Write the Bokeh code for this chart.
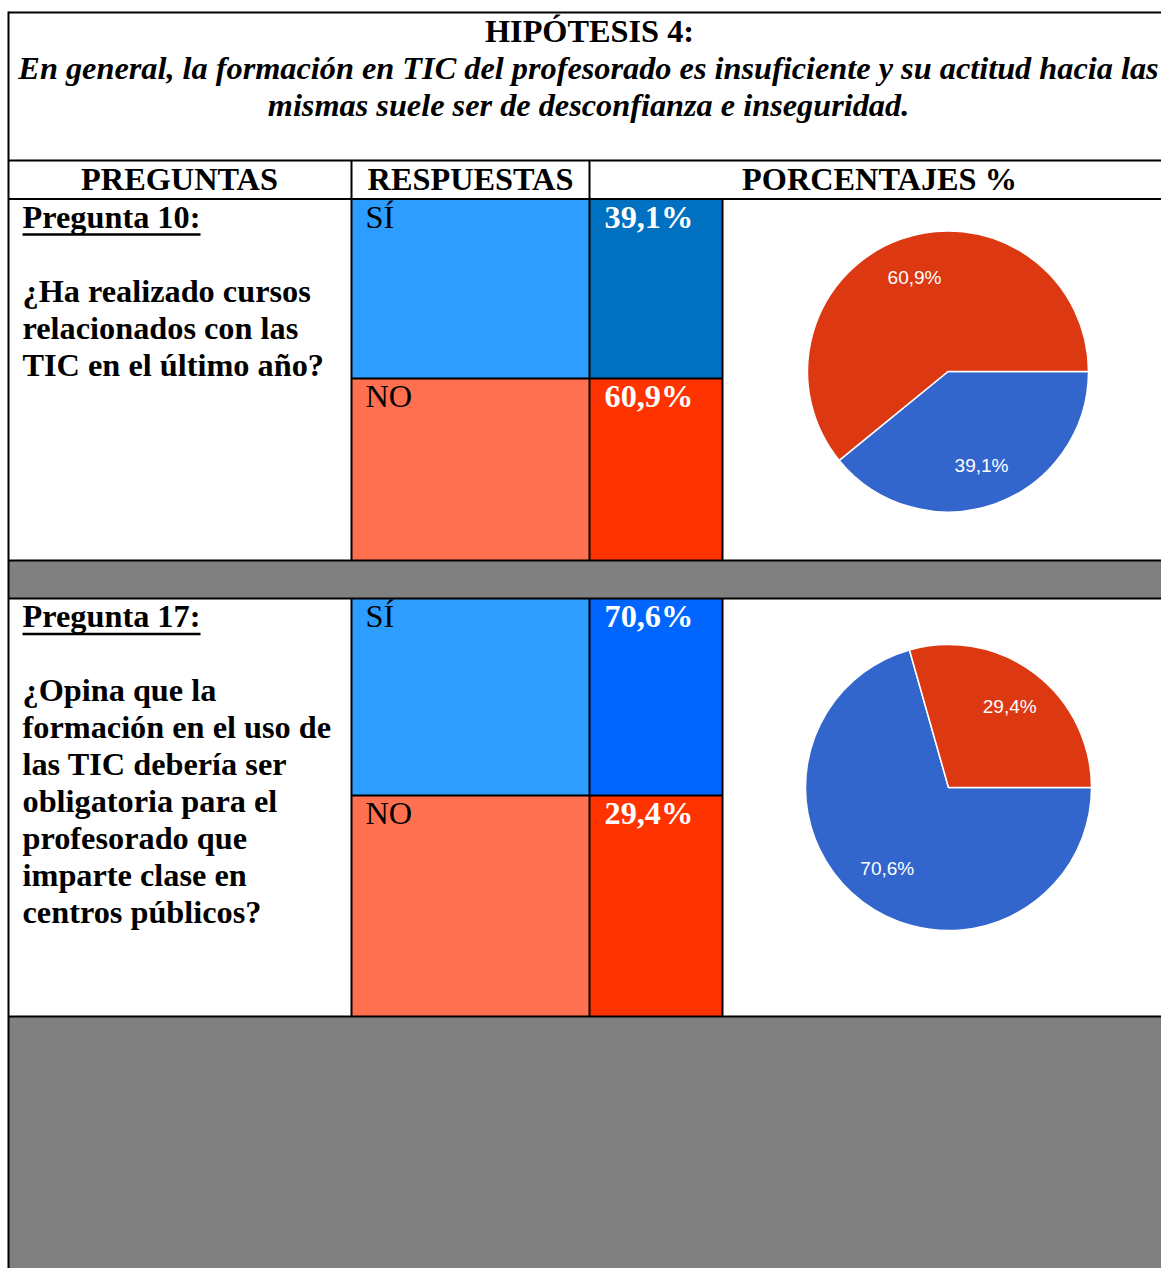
from bokeh.plotting import figure
from bokeh.models import Range1d
from bokeh.embed import file_html
from bokeh.resources import INLINE
from bokeh.core.properties import value
import numpy as np

# ---------------- data ----------------
title = "HIPÓTESIS 4:"
subtitle_lines = [
    "En general, la formación en TIC del profesorado es insuficiente y su actitud hacia las",
    "mismas suele ser de desconfianza e inseguridad.",
]
headers = ["PREGUNTAS", "RESPUESTAS", "PORCENTAJES %"]
questions = ["Pregunta 10:", "Pregunta 17:"]
question_lines = [
    ["¿Ha realizado cursos", "relacionados con las", "TIC en el último año?"],
    ["¿Opina que la", "formación en el uso de", "las TIC debería ser",
     "obligatoria para el", "profesorado que", "imparte clase en", "centros públicos?"],
]
answers = ["SÍ", "NO"]
si_pct = [39.1, 70.6]
no_pct = [60.9, 29.4]

def fmt(v):
    return f"{v:.1f}".replace(".", ",") + "%"

# ---------------- layout (image pixel coordinates) ----------------
IMG_W = 1161
IMG_H = 1268
def Y(v):
    return IMG_H - v

BL = 12.5  # correction so that text baselines land where wanted
def TB(v):
    return Y(v - BL)

SERIF = value("Liberation Serif")
SANS = value("Liberation Sans")
FS = "32.3px"

rows = [dict(top=198.5, split=378, bottom=560), dict(top=598, split=795, bottom=1016)]
si_cell_colors = ["#0070C0", "#0066FF"]
pies = [(947.5, 371, 140.5), (948, 787, 143)]

p = figure(width=IMG_W, height=IMG_H, x_range=Range1d(0, IMG_W), y_range=Range1d(0, IMG_H),
           x_axis_type=None, y_axis_type=None, toolbar_location=None,
           output_backend="svg", min_border=0)
p.outline_line_color = None
p.grid.visible = False
p.background_fill_color = "white"
p.border_fill_color = "white"

# gray bands
p.quad(left=[8, 8], right=[IMG_W, IMG_W], top=[Y(560), Y(1016)], bottom=[Y(598), Y(IMG_H)],
       fill_color="#808080", line_color=None)

# answer cells
for i, r in enumerate(rows):
    p.quad(left=[351, 589, 351, 589], right=[589, 722, 589, 722],
           top=[Y(r["top"]), Y(r["top"]), Y(r["split"]), Y(r["split"])],
           bottom=[Y(r["split"]), Y(r["split"]), Y(r["bottom"]), Y(r["bottom"])],
           fill_color=["#2D9EFF", si_cell_colors[i], "#FF7050", "#FF3300"], line_color=None)

# borders
segs = [
    (8, 12, IMG_W, 12), (8, 160, IMG_W, 160), (8, 198.5, IMG_W, 198.5),
    (8, 560, IMG_W, 560), (8, 598, IMG_W, 598), (8, 1016, IMG_W, 1016),
    (8, 11, 8, IMG_H),
    (351, 160, 351, 560), (589, 160, 589, 560), (722, 198.5, 722, 560),
    (351, 598, 351, 1016), (589, 598, 589, 1016), (722, 598, 722, 1016),
    (351, 378, 722, 378), (351, 795, 722, 795),
]
p.segment(x0=[s[0] for s in segs], y0=[Y(s[1]) for s in segs],
          x1=[s[2] for s in segs], y1=[Y(s[3]) for s in segs],
          line_color="black", line_width=2)

# title texts
p.text(x=[589], y=[TB(43)], text=[title], text_font=SERIF, text_font_size=FS,
       text_font_style="bold", text_align="center", text_baseline="alphabetic", text_color="black")
p.text(x=[588, 588], y=[TB(80), TB(117)], text=subtitle_lines, text_font=SERIF,
       text_font_size=FS, text_font_style="bold italic", text_align="center",
       text_baseline="alphabetic", text_color="black")

# headers
p.text(x=[179, 470, 879], y=[TB(191)] * 3, text=headers, text_font=SERIF, text_font_size=FS,
       text_font_style="bold", text_align="center", text_baseline="alphabetic", text_color="black")

# rows
for i, r in enumerate(rows):
    t = r["top"]
    qb = t + 30
    p.text(x=[22], y=[TB(qb)], text=[questions[i]], text_font=SERIF, text_font_size=FS,
           text_font_style="bold", text_baseline="alphabetic", text_color="black")
    p.segment(x0=[22], y0=[Y(qb + 5.5)], x1=[200], y1=[Y(qb + 5.5)], line_color="black", line_width=2.5)
    ls = question_lines[i]
    p.text(x=[22] * len(ls), y=[TB(qb + 74 + 37 * k) for k in range(len(ls))], text=ls,
           text_font=SERIF, text_font_size=FS, text_font_style="bold",
           text_baseline="alphabetic", text_color="black")
    p.text(x=[365, 365], y=[TB(t + 30), TB(r["split"] + 30)], text=answers, text_font=SERIF,
           text_font_size=FS, text_baseline="alphabetic", text_color="black")
    p.text(x=[604, 604], y=[TB(t + 30), TB(r["split"] + 30)], text=[fmt(si_pct[i]), fmt(no_pct[i])],
           text_font=SERIF, text_font_size=FS, text_font_style="bold",
           text_baseline="alphabetic", text_color="white")

    # pie: blue (SÍ) starts at 3 o'clock going clockwise, then red (NO)
    cx, cy, rad = pies[i]
    a_si = 2 * np.pi * si_pct[i] / 100.0
    a_no = 2 * np.pi * no_pct[i] / 100.0
    p.wedge(x=[cx, cx], y=[Y(cy), Y(cy)], radius=rad,
            start_angle=[-a_si, 0.0], end_angle=[0.0, a_no],
            fill_color=["#3366CC", "#DC3912"], line_color="white", line_width=1.5)
    mids = [-a_si / 2.0, a_no / 2.0]
    lx = [cx + 0.71 * rad * np.cos(m) for m in mids]
    ly = [Y(cy) + 0.71 * rad * np.sin(m) for m in mids]
    p.text(x=lx, y=ly, text=[fmt(si_pct[i]), fmt(no_pct[i])], text_font=SANS,
           text_font_size="19px", text_align="center", text_baseline="middle", text_color="white")

open("out.html", "w").write(file_html(p, INLINE))
